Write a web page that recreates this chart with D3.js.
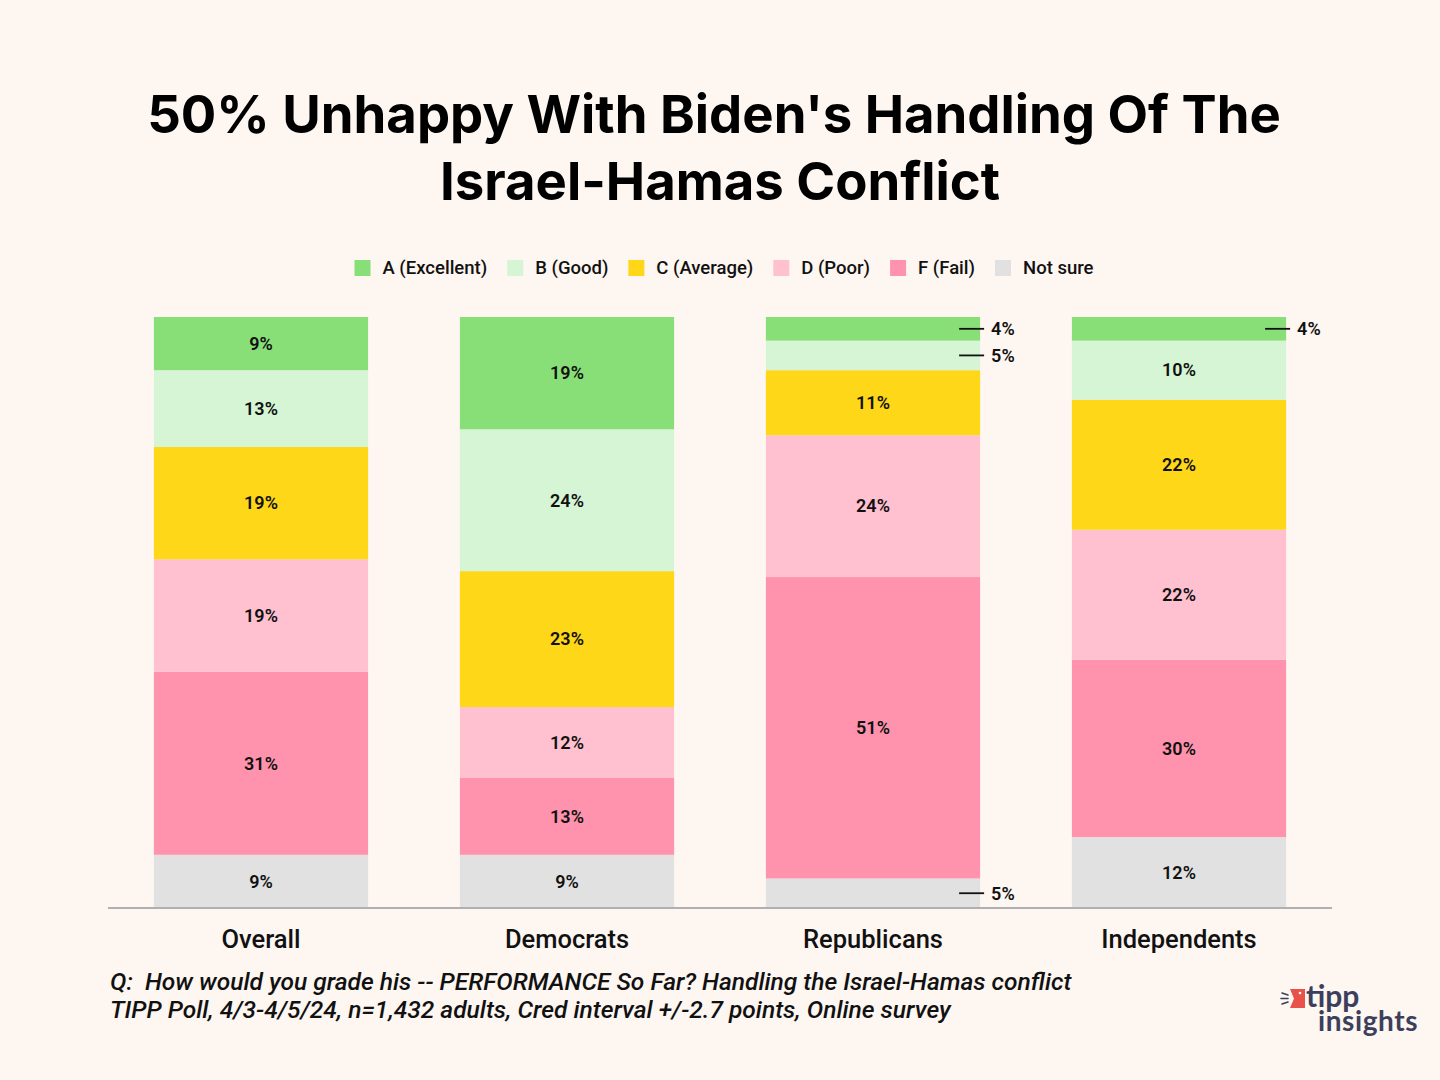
<!DOCTYPE html>
<html>
<head>
<meta charset="utf-8">
<script src="https://cdn.jsdelivr.net/npm/d3@7"></script>
<style>
  html, body { margin: 0; padding: 0; background: #fdf6f1; }
  svg { display: block; }
  text { white-space: pre; }
</style>
</head>
<body>
<svg id="chart" width="1440" height="1080"></svg>
<script>
// ---- Data ----
const categories = ["Overall", "Democrats", "Republicans", "Independents"];
const seriesNames = ["A (Excellent)", "B (Good)", "C (Average)", "D (Poor)", "F (Fail)", "Not sure"];
const excellent = [9, 19, 4, 4];
const good      = [13, 24, 5, 10];
const average   = [19, 23, 11, 22];
const poor      = [19, 12, 24, 22];
const fail      = [31, 13, 51, 30];
const notSure   = [9, 9, 5, 12];
const titleLines = ["50% Unhappy With Biden's Handling Of The", "Israel-Hamas Conflict"];
const footerLines = [
  "Q:  How would you grade his -- PERFORMANCE So Far? Handling the Israel-Hamas conflict",
  "TIPP Poll, 4/3-4/5/24, n=1,432 adults, Cred interval +/-2.7 points, Online survey"
];

const seriesValues = [excellent, good, average, poor, fail, notSure];
const colors = ["#88df78", "#d5f5d4", "#fed718", "#ffc0cf", "#ff93ad", "#e1e1e1"];

const svg = d3.select("#chart");
svg.append("rect").attr("width", 1440).attr("height", 1080).attr("fill", "#fdf6f1");

const FONT = "Roboto, 'Noto Sans', sans-serif";

// ---- Title ----
const titleEls = titleLines.map((t, i) => svg.append("text")
    .attr("x", i === 0 ? 714 : 720).attr("y", i === 0 ? 133 : 200)
    .attr("text-anchor", "middle")
    .attr("font-family", "Inter, Roboto, sans-serif")
    .attr("font-weight", 700)
    .attr("font-size", 50)
    .attr("fill", "#000")
    .text(t));
(function () {
  const w = titleEls[0].node().getComputedTextLength();
  const fs = 50 * 1134 / w;
  titleEls.forEach(e => e.attr("font-size", fs));
})();

// ---- Scales ----
const x = d3.scaleBand().domain(categories).range([108, 1332]).paddingInner(0.3).paddingOuter(0.15);
const y = d3.scaleLinear().domain([0, 100]).range([908, 317]);

// stack: bottom = Not sure, top = A
const table = categories.map((c, i) => {
  const row = { cat: c };
  seriesNames.forEach((s, k) => row[s] = seriesValues[k][i]);
  return row;
});
const stackKeys = seriesNames.slice().reverse();
const stacked = d3.stack().keys(stackKeys)(table);

const gBars = svg.append("g");
stacked.forEach(layer => {
  const color = colors[seriesNames.indexOf(layer.key)];
  gBars.selectAll(null).data(layer).enter().append("rect")
    .attr("x", d => x(d.data.cat))
    .attr("width", x.bandwidth())
    .attr("y", d => y(d[1]))
    .attr("height", d => y(d[0]) - y(d[1]))
    .attr("fill", color);
});

// labels
const LABFS = 18;
const gLab = svg.append("g");
stacked.forEach(layer => {
  layer.forEach(d => {
    const v = d[1] - d[0];
    const cy = (y(d[0]) + y(d[1])) / 2;
    const cx = x(d.data.cat) + x.bandwidth() / 2;
    if (v >= 9) {
      gLab.append("text")
        .attr("x", cx).attr("y", cy).attr("dy", "0.35em")
        .attr("text-anchor", "middle")
        .attr("font-family", FONT).attr("font-weight", 600).attr("font-size", LABFS)
        .attr("fill", "#111")
        .text(v + "%");
    } else {
      const xr = x(d.data.cat) + x.bandwidth();
      gLab.append("line")
        .attr("x1", xr - 21).attr("x2", xr + 4)
        .attr("y1", cy).attr("y2", cy)
        .attr("stroke", "#111").attr("stroke-width", 1.8);
      gLab.append("text")
        .attr("x", xr + 11).attr("y", cy).attr("dy", "0.35em")
        .attr("font-family", FONT).attr("font-weight", 600).attr("font-size", LABFS)
        .attr("fill", "#111")
        .text(v + "%");
    }
  });
});

// ---- Axis ----
const xAxis = d3.axisBottom(x).tickSize(0).tickPadding(22);
const gx = svg.append("g").attr("transform", "translate(0,908)").call(xAxis);
gx.select(".domain").attr("stroke", "#b0afb4").attr("stroke-width", 2)
  .attr("d", "M108,0H1332");
gx.selectAll(".tick text")
  .attr("font-family", FONT).attr("font-weight", 500).attr("font-size", 25.5)
  .attr("fill", "#111");

// ---- Legend ----
const gLeg = svg.append("g");
const items = [];
seriesNames.forEach((s, k) => {
  const g = gLeg.append("g");
  g.append("rect").attr("x", 0).attr("y", 260).attr("width", 16).attr("height", 16).attr("fill", colors[k]);
  const t = g.append("text").attr("x", 28).attr("y", 268).attr("dy", "0.35em")
    .attr("font-family", FONT).attr("font-weight", 500).attr("font-size", 18.5)
    .attr("fill", "#111").text(s);
  items.push({ g, w: 28 + t.node().getComputedTextLength() });
});
const gap = 20;
const total = d3.sum(items, d => d.w) + gap * (items.length - 1);
let lx = 724 - total / 2;
items.forEach(it => {
  it.g.attr("transform", `translate(${lx},0)`);
  lx += it.w + gap;
});

// ---- Footer ----
const footEls = footerLines.map((t, i) => svg.append("text")
    .attr("x", 110).attr("y", i === 0 ? 990 : 1018)
    .attr("font-family", FONT).attr("font-style", "italic").attr("font-weight", 500)
    .attr("font-size", 21).attr("fill", "#111").text(t));
(function () {
  const w = footEls[0].node().getComputedTextLength();
  const fs = 21 * 962 / w;
  footEls.forEach(e => e.attr("font-size", fs));
})();

// ---- Logo ----
const logo = svg.append("g");
logo.append("path").attr("d", "M1290,989 L1305,989 L1305,1008 L1290,1008 L1294,998.5 Z").attr("fill", "#e8524a");
logo.append("circle").attr("cx", 1300).attr("cy", 993).attr("r", 1.3).attr("fill", "#fff");
[[1282, 993, 1288, 995], [1281, 998.5, 1288, 998.5], [1282, 1004, 1288, 1002]].forEach(l => {
  logo.append("line").attr("x1", l[0]).attr("y1", l[1]).attr("x2", l[2]).attr("y2", l[3])
    .attr("stroke", "#3b3f5b").attr("stroke-width", 1.6).attr("stroke-linecap", "round");
});
const logoText = logo.append("text")
  .attr("font-family", "Lato, Roboto, sans-serif").attr("font-weight", 700)
  .attr("fill", "#3b3f5b");
logoText.append("tspan").attr("x", 1306).attr("y", 1007).attr("font-size", 30).text("tipp");
logoText.append("tspan").attr("x", 1318).attr("y", 1031).attr("font-size", 28)
  .attr("letter-spacing", 0.6).text("insights");
</script>
</body>
</html>
